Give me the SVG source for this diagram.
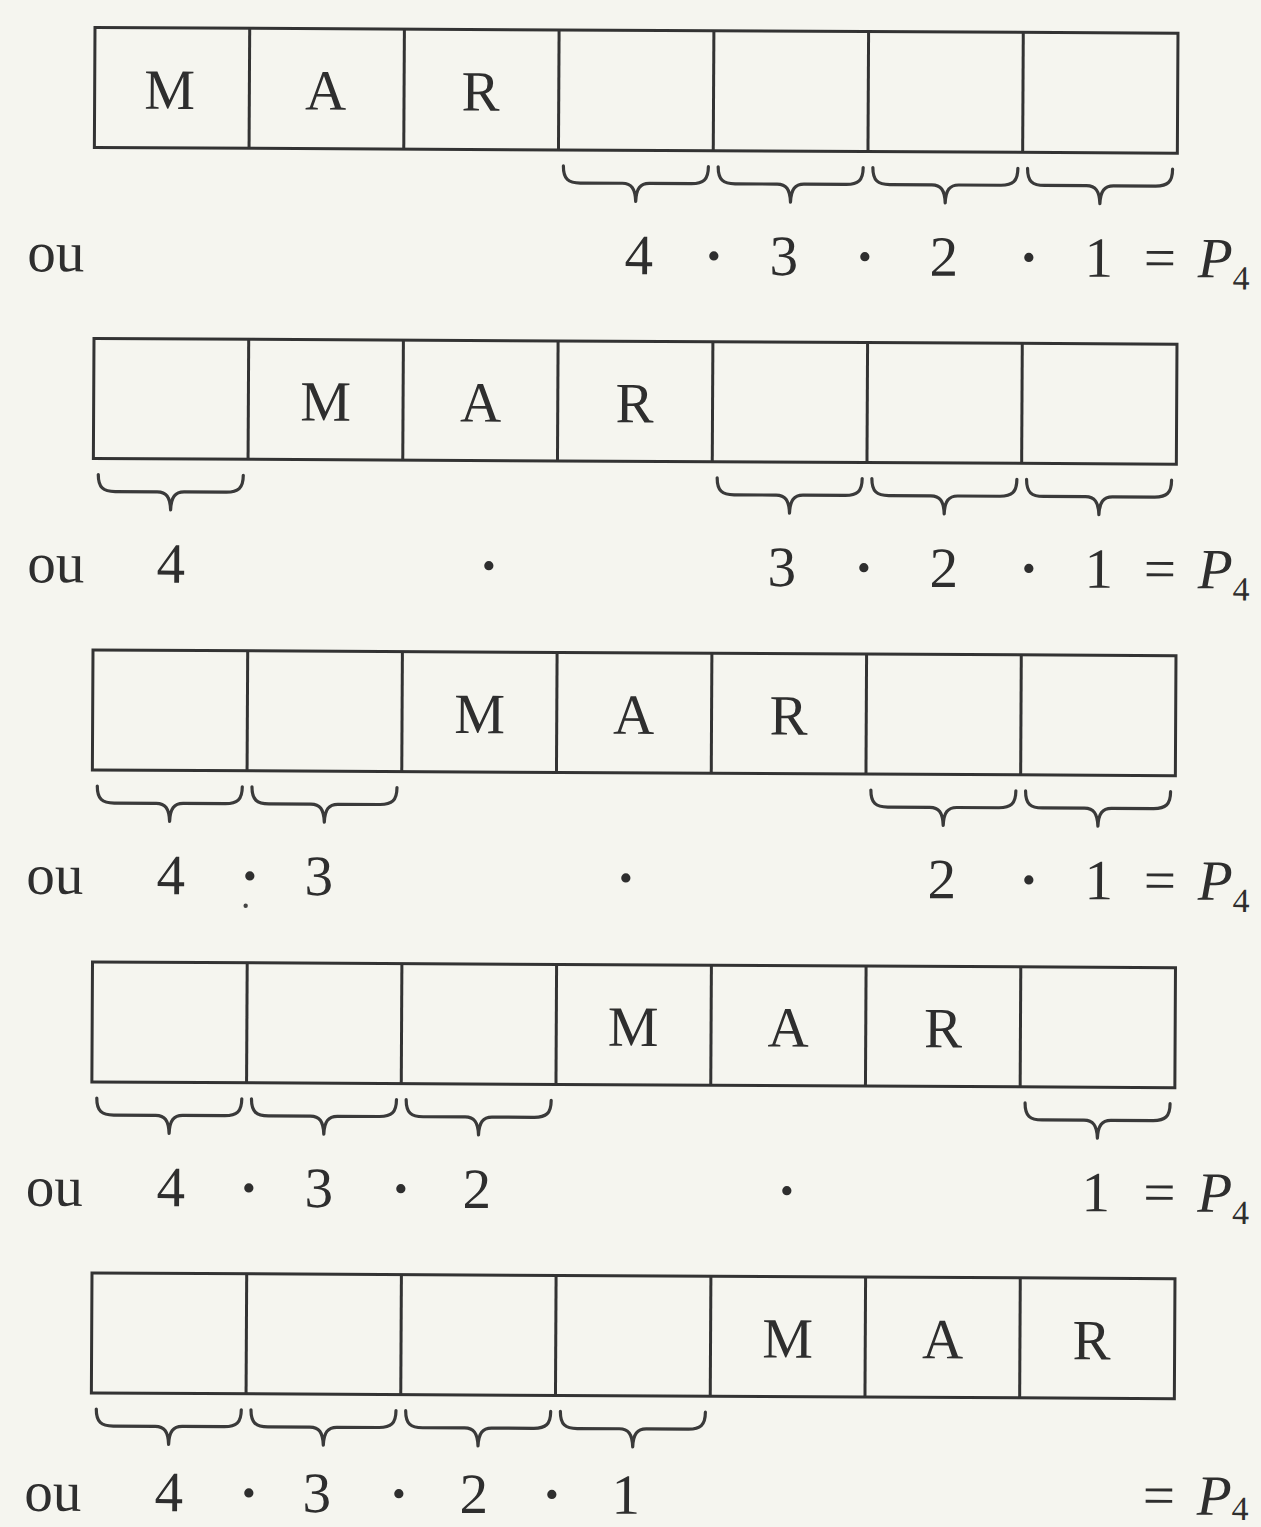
<svg xmlns="http://www.w3.org/2000/svg" xmlns:xlink="http://www.w3.org/1999/xlink" width="1261" height="1527" viewBox="0 0 1261 1527">
<style>
.bg{fill:#f5f5ef}
.box{fill:none;stroke:#333;stroke-width:3}
.br{fill:none;stroke:#3a3a3a;stroke-width:3.2;stroke-linecap:round;stroke-linejoin:round}
text{font-family:"Liberation Serif","Times New Roman",serif;fill:#2e2e2e;font-size:57px;text-anchor:middle}
.d{font-weight:bold}
.p{font-style:italic;text-anchor:start}
.sub{font-size:34px;font-style:normal}
</style>
<defs>
<path id="brace" class="br" d="M5,136 C5,149 10,153 22,153 L64,153 C73,153 77,158 77.5,171 C78,158 82,153 91,153 L133,153 C145,153 150,149 150,136"/>
<g id="cells">
<rect class="box" x="0" y="0" width="1083" height="120"/>
<line class="box" x1="154.7" y1="0" x2="154.7" y2="120"/>
<line class="box" x1="309.4" y1="0" x2="309.4" y2="120"/>
<line class="box" x1="464.1" y1="0" x2="464.1" y2="120"/>
<line class="box" x1="618.9" y1="0" x2="618.9" y2="120"/>
<line class="box" x1="773.6" y1="0" x2="773.6" y2="120"/>
<line class="box" x1="928.3" y1="0" x2="928.3" y2="120"/>
</g>
</defs>
<rect class="bg" x="0" y="0" width="1261" height="1527"/>

<g id="row1" transform="translate(95,27.5) rotate(0.3)">
<use xlink:href="#cells"/>
<text x="75" y="81">M</text><text x="231" y="81">A</text><text x="386" y="81">R</text>
<g id="braces1"><use xlink:href="#brace" x="464.1"/><use xlink:href="#brace" x="618.9"/><use xlink:href="#brace" x="773.6"/><use xlink:href="#brace" x="928.3"/></g>
<text x="-38" y="244">ou</text>
<text x="545" y="244">4</text><text class="d" x="620" y="244">·</text><text x="690" y="244">3</text><text class="d" x="771" y="244">·</text><text x="850" y="244">2</text><text class="d" x="935" y="244">·</text><text x="1005" y="244">1</text><text x="1066" y="244">=</text>
<text class="p" x="1104" y="244">P<tspan class="sub" dy="12">4</tspan></text>
</g>

<g id="row2" transform="translate(94,338.5) rotate(0.3)">
<use xlink:href="#cells"/>
<text x="232" y="81">M</text><text x="387" y="81">A</text><text x="541" y="81">R</text>
<g id="braces2"><use xlink:href="#brace" x="0"/><use xlink:href="#brace" x="618.9"/><use xlink:href="#brace" x="773.6"/><use xlink:href="#brace" x="928.3"/></g>
<text x="-37" y="244">ou</text>
<text x="78" y="244">4</text><text class="d" x="396" y="244">·</text><text x="689" y="244">3</text><text class="d" x="771" y="244">·</text><text x="851" y="244">2</text><text class="d" x="936" y="244">·</text><text x="1006" y="244">1</text><text x="1067" y="244">=</text>
<text class="p" x="1105" y="244">P<tspan class="sub" dy="12">4</tspan></text>
</g>

<g id="row3" transform="translate(93,650) rotate(0.3)">
<use xlink:href="#cells"/>
<text x="387" y="81">M</text><text x="541" y="81">A</text><text x="696" y="81">R</text>
<g id="braces3"><use xlink:href="#brace" x="0"/><use xlink:href="#brace" x="154.7"/><use xlink:href="#brace" x="773.6"/><use xlink:href="#brace" x="928.3"/></g>
<text x="-37" y="244">ou</text>
<text x="79" y="244">4</text><text class="d" x="158" y="244">·</text><circle cx="154" cy="255" r="2.2" fill="#444"/><text x="227" y="244">3</text><text class="d" x="534" y="244">·</text><text x="850" y="244">2</text><text class="d" x="937" y="244">·</text><text x="1007" y="244">1</text><text x="1068" y="244">=</text>
<text class="p" x="1106" y="244">P<tspan class="sub" dy="12">4</tspan></text>
</g>

<g id="row4" transform="translate(92.5,962) rotate(0.3)">
<use xlink:href="#cells"/>
<text x="541" y="81">M</text><text x="696" y="81">A</text><text x="851" y="81">R</text>
<g id="braces4"><use xlink:href="#brace" x="0"/><use xlink:href="#brace" x="154.7"/><use xlink:href="#brace" x="309.4"/><use xlink:href="#brace" x="928.3"/></g>
<text x="-37" y="244">ou</text>
<text x="79.5" y="244">4</text><text class="d" x="157.5" y="244">·</text><text x="227.5" y="244">3</text><text class="d" x="309.5" y="244">·</text><text x="385.5" y="244">2</text><text class="d" x="695.5" y="244">·</text><text x="1004.5" y="244">1</text><text x="1068" y="244">=</text>
<text class="p" x="1106" y="244">P<tspan class="sub" dy="12">4</tspan></text>
</g>

<g id="row5" transform="translate(92,1273) rotate(0.3)">
<use xlink:href="#cells"/>
<text x="696" y="81">M</text><text x="851" y="81">A</text><text x="1000" y="81">R</text>
<g id="braces5"><use xlink:href="#brace" x="0"/><use xlink:href="#brace" x="154.7"/><use xlink:href="#brace" x="309.4"/><use xlink:href="#brace" x="464.1"/></g>
<text x="-38" y="238">ou</text>
<text x="78" y="238">4</text><text class="d" x="158" y="238">·</text><text x="226" y="238">3</text><text class="d" x="308" y="238">·</text><text x="383" y="238">2</text><text class="d" x="461" y="238">·</text><text x="535" y="238">1</text><text x="1068" y="236">=</text>
<text class="p" x="1106" y="236">P<tspan class="sub" dy="5">4</tspan></text>
</g>
</svg>
